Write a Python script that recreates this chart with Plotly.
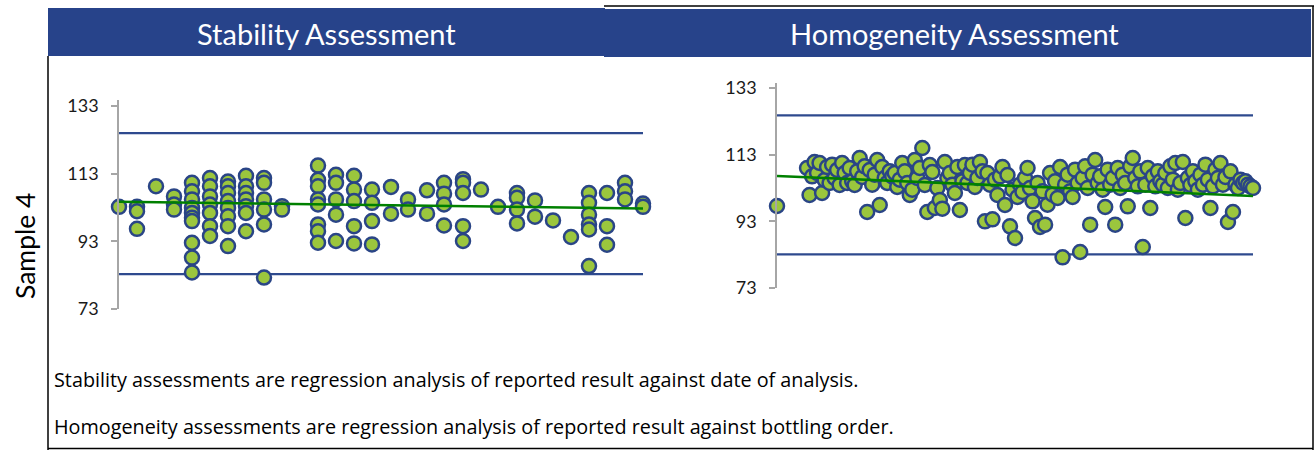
import plotly.graph_objects as go

W, H = 1315, 450

# ---------------- Data ----------------
# Stability: day of analysis vs reported result
stab_days = [0, 18, 18, 18, 37, 55, 55, 55,
             73, 73, 73, 73, 73, 73, 73, 73, 73, 73,
             91, 91, 91, 91, 91, 91, 91,
             109, 109, 109, 109, 109, 109, 109, 109,
             127, 127, 127, 127, 127, 127, 127,
             145, 145, 145, 145, 145, 145,
             163, 163,
             199, 199, 199, 199, 199, 199, 199, 199,
             217, 217, 217, 217, 217,
             235, 235, 235, 235, 235,
             253, 253, 253, 253,
             272, 272, 289, 289, 308, 308,
             325, 325, 325, 325,
             344, 344, 344, 344, 344,
             362, 379,
             398, 398, 398, 398,
             416, 416, 434, 452,
             470, 470, 470, 470, 470, 470,
             488, 488, 488,
             506, 506, 506,
             524, 524]
stab_vals = [103.2, 103.2, 101.9, 96.7, 109.3, 106.3, 103.9, 102.4,
             110.3, 107.8, 105.4, 102.9, 101.4, 100.0, 99.0, 92.6, 88.2, 83.8,
             111.7, 109.3, 106.3, 103.9, 101.4, 97.5, 94.6,
             110.7, 109.3, 107.3, 104.9, 102.9, 100.4, 97.5, 91.6,
             112.4, 109.3, 107.3, 105.4, 103.4, 101.4, 96.0,
             111.7, 110.3, 105.4, 102.4, 98.0, 82.3,
             103.4, 102.4,
             115.4, 111.2, 109.3, 105.4, 103.9, 98.0, 96.0, 92.6,
             112.7, 110.3, 105.4, 100.9, 93.1,
             112.4, 108.3, 104.9, 97.5, 92.4,
             108.3, 104.4, 99.0, 92.1,
             109.1, 101.2, 105.4, 102.4, 108.1, 101.2,
             110.3, 107.1, 103.9, 97.7,
             111.4, 110.3, 107.3, 97.5, 93.1,
             108.3, 103.2,
             107.3, 105.9, 102.4, 98.3,
             105.1, 100.3, 99.2, 94.3,
             107.3, 104.4, 100.9, 98.0, 96.5, 85.7,
             107.3, 97.5, 92.0,
             110.3, 107.8, 105.4,
             104.2, 103.2]
stab_trend_days = [0, 524]
stab_trend_vals = [104.7, 102.7]
stab_limits = [125.0, 83.3]

# Homogeneity: bottling order vs reported result
homo_order = [1] + list(range(13, 192))
homo_vals = [97.6,
             109.0, 100.9, 106.5, 110.8, 107.5, 110.5, 101.5, 105.4, 109.3, 104.5,
             110.0, 106.0, 108.4, 103.9, 110.5, 107.5, 104.5, 109.0, 105.0, 103.9,
             108.0, 112.0, 106.3, 109.5, 95.8, 108.4, 104.0, 107.0, 111.4, 97.9,
             109.3, 106.0, 104.5, 108.0, 106.5, 107.5, 103.3, 105.5, 110.5, 108.0,
             104.5, 100.9, 102.5, 111.4, 106.0, 109.0, 115.0, 103.9, 95.8, 109.9,
             107.8, 97.0, 103.0, 99.4, 96.8, 110.8, 106.0, 107.5, 104.0, 101.5,
             109.3, 96.4, 105.0, 109.9, 104.5, 107.5, 110.0, 103.3, 106.0, 110.8,
             108.0, 93.0, 107.5, 104.0, 93.6, 105.5, 100.9, 106.5, 109.3, 97.9,
             106.9, 91.5, 102.5, 88.0, 100.3, 104.0, 101.8, 106.0, 109.0, 103.0,
             99.0, 94.0, 104.5, 91.3, 102.0, 92.0, 98.0, 107.5, 101.0, 105.0,
             100.0, 109.3, 82.2, 104.0, 107.0, 102.0, 100.3, 108.5, 104.5, 83.8,
             106.0, 109.5, 103.0, 92.0, 107.0, 111.4, 104.5, 106.5, 102.5, 97.3,
             108.5, 104.0, 106.0, 92.0, 109.0, 103.0, 107.0, 104.5, 97.5, 109.5,
             112.0, 106.0, 103.5, 108.0, 85.3, 104.0, 109.0, 97.0, 106.5, 103.5,
             108.0, 105.0, 104.0, 107.5, 103.0, 109.5, 105.5, 110.5, 102.5, 104.5,
             110.8, 94.0, 106.0, 103.9, 108.0, 105.0, 102.5, 107.0, 104.0, 110.0,
             105.5, 97.0, 103.5, 108.5, 106.0, 110.5, 104.0, 106.3, 92.8, 108.0,
             95.8, 104.0, 103.0, 105.5, 104.5, 105.0, 104.0, 103.5, 103.0]
homo_trend_order = [1, 191]
homo_trend_vals = [106.6, 100.6]
homo_limits = [124.8, 83.1]

y_ticks = [73, 93, 113, 133]

panel_titles = ["Stability Assessment", "Homogeneity Assessment"]
row_label = "Sample 4"
notes = ["Stability assessments are regression analysis of reported result against date of analysis.",
         "Homogeneity assessments are regression analysis of reported result against bottling order."]

# ---------------- Styles ----------------
HEADER = "#27438A"
FILL = "#9BC63D"
EDGE = "#2A4586"
LIMIT = "#2E4A8E"
TREND = "#008000"
AXIS = "#A6A6A6"
FONT = "Lato"


def px(x):
    return x / W


def py(y):
    return 1 - y / H


fig = go.Figure()


def add_panel(xs, ys, tx, ty, limits, xa, ya):
    x0, x1 = min(xs), max(xs)
    for lv in limits:
        fig.add_trace(go.Scatter(x=[x0, x1], y=[lv, lv], mode="lines",
                                 line=dict(color=LIMIT, width=2.2),
                                 xaxis=xa, yaxis=ya, hoverinfo="skip", showlegend=False))
    fig.add_trace(go.Scatter(x=xs, y=ys, mode="markers",
                             marker=dict(size=14, color=FILL, line=dict(color=EDGE, width=2.5)),
                             xaxis=xa, yaxis=ya, cliponaxis=False, showlegend=False))
    fig.add_trace(go.Scatter(x=tx, y=ty, mode="lines",
                             line=dict(color=TREND, width=2.5),
                             xaxis=xa, yaxis=ya, cliponaxis=False, hoverinfo="skip", showlegend=False))


add_panel(stab_days, stab_vals, stab_trend_days, stab_trend_vals, stab_limits, "x", "y")
add_panel(homo_order, homo_vals, homo_trend_order, homo_trend_vals, homo_limits, "x2", "y2")

yax = dict(showgrid=False, zeroline=False, showline=True, linecolor=AXIS, linewidth=1.5,
           ticks="outside", ticklen=6, tickcolor=AXIS, tickwidth=1.5, ticklabelstandoff=9,
           automargin=False,
           tickvals=y_ticks, tickfont=dict(family=FONT, size=18, color="#1a1a1a"))

fig.update_layout(
    width=W, height=H, margin=dict(l=0, r=0, t=0, b=0, pad=0, autoexpand=False), autosize=False,
    paper_bgcolor="white", plot_bgcolor="white", showlegend=False,
    xaxis=dict(domain=[px(119), px(643)], range=[min(stab_days), max(stab_days)], visible=False,
               automargin=False),
    yaxis=dict(domain=[py(309), py(100)], range=[73, 134.8], anchor="x", **yax),
    xaxis2=dict(domain=[px(777), px(1253)], range=[min(homo_order), max(homo_order)], visible=False,
                anchor="y2", automargin=False),
    yaxis2=dict(domain=[py(288), py(83)], range=[73, 134.5], anchor="x2", **yax),
)

shapes = [
    dict(type="rect", xref="paper", yref="paper", x0=px(48), x1=px(605), y0=py(56), y1=py(8),
         fillcolor=HEADER, line=dict(width=0), layer="below"),
    dict(type="rect", xref="paper", yref="paper", x0=px(604), x1=px(1311), y0=py(57), y1=py(9),
         fillcolor=HEADER, line=dict(width=0), layer="below"),
    dict(type="line", xref="paper", yref="paper", x0=px(48), x1=px(48), y0=py(56), y1=py(450),
         line=dict(color="black", width=1.5)),
    dict(type="line", xref="paper", yref="paper", x0=px(604), x1=px(1314), y0=py(6), y1=py(6),
         line=dict(color="black", width=1.5)),
    dict(type="line", xref="paper", yref="paper", x0=px(1313), x1=px(1313), y0=py(6), y1=py(450),
         line=dict(color="black", width=1.5)),
    dict(type="line", xref="paper", yref="paper", x0=px(48), x1=px(1313), y0=py(448.5), y1=py(448.5),
         line=dict(color="black", width=1.5)),
]
fig.update_layout(shapes=shapes)

ann = [
    dict(text=panel_titles[0], x=px(326), y=py(33), xref="paper", yref="paper", showarrow=False,
         xanchor="center", yanchor="middle", font=dict(family=FONT, size=29, color="white")),
    dict(text=panel_titles[1], x=px(954), y=py(33), xref="paper", yref="paper", showarrow=False,
         xanchor="center", yanchor="middle", font=dict(family=FONT, size=29, color="white")),
    dict(text=row_label, x=px(25), y=py(246), xref="paper", yref="paper", showarrow=False,
         xanchor="center", yanchor="middle", textangle=-90, font=dict(family=FONT, size=26.5, color="black")),
    dict(text=notes[0], x=px(52), y=py(379), xref="paper", yref="paper", showarrow=False,
         xanchor="left", yanchor="middle", font=dict(family="Open Sans", size=19.8, color="black")),
    dict(text=notes[1], x=px(52), y=py(426), xref="paper", yref="paper", showarrow=False,
         xanchor="left", yanchor="middle", font=dict(family="Open Sans", size=19.8, color="black")),
]
fig.update_layout(annotations=ann)

fig.write_html("out.html",
               config={"responsive": False, "displayModeBar": False},
               post_script="document.body.style.margin='0';document.body.style.overflow='hidden';")
